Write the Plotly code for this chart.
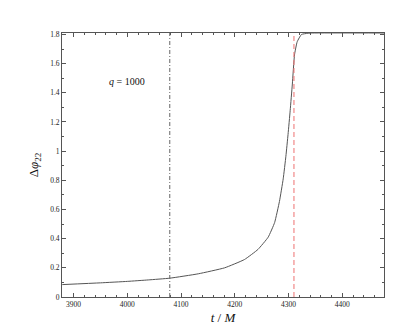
import plotly.graph_objects as go

# phase difference curve
t_vals = [3879, 3950, 4000, 4039, 4079, 4132, 4181, 4218, 4243, 4262, 4274,
          4283, 4290, 4295, 4299, 4303, 4307, 4311, 4316, 4324, 4336, 4345, 4478]
dphi_vals = [0.085, 0.097, 0.107, 0.117, 0.129, 0.159, 0.200, 0.257, 0.326,
             0.410, 0.510, 0.655, 0.81, 0.965, 1.115, 1.28, 1.46, 1.66, 1.75,
             1.80, 1.808, 1.81, 1.81]

# vertical reference lines
t_dashdot = 4079
t_dashed = 4310

y_ticks = [0, 0.2, 0.4, 0.6, 0.8, 1, 1.2, 1.4, 1.6, 1.8]
x_ticks = [3900, 4000, 4100, 4200, 4300, 4400]

serif = "Liberation Serif"
axis_col = "#555555"

fig = go.Figure()

fig.add_trace(go.Scatter(
    x=t_vals, y=dphi_vals, mode="lines",
    line=dict(color="#555555", width=1, shape="spline", smoothing=0.4),
    showlegend=False, hoverinfo="skip"
))

fig.add_vline(x=t_dashdot, line=dict(color="#666666", width=1, dash="4px,2px,1px,2px"))
fig.add_vline(x=t_dashed, line=dict(color="#ee7070", width=1, dash="5px,3px"))

fig.add_annotation(
    x=4000, y=1.48, xref="x", yref="y", showarrow=False,
    text="<i>q</i> = 1000", font=dict(family=serif, size=10, color="#111111")
)

axis_common = dict(
    showline=True, linecolor=axis_col, linewidth=1, mirror="ticks",
    ticks="inside", ticklen=4, tickwidth=1, tickcolor=axis_col,
    showgrid=False, zeroline=False,
    tickfont=dict(family=serif, size=7.5, color="#222222"),
)

fig.update_xaxes(
    range=[3878.5, 4477.5], tickvals=x_ticks,
    minor=dict(ticks="inside", ticklen=2, dtick=20, tick0=3900, tickcolor=axis_col, showgrid=False),
    title=dict(text="<i>t</i> / <i>M</i>", font=dict(family=serif, size=13, color="#111111"), standoff=4),
    **axis_common
)
fig.update_yaxes(
    range=[0, 1.81], tickvals=y_ticks,
    minor=dict(ticks="inside", ticklen=2, dtick=0.1, tick0=0, tickcolor=axis_col, showgrid=False),
    title=dict(text="Δ<i>φ</i><sub>22</sub>", font=dict(family=serif, size=13, color="#111111"), standoff=8),
    **axis_common
)

fig.update_layout(
    width=415, height=326,
    margin=dict(l=54, r=39, t=25, b=37),
    plot_bgcolor="white", paper_bgcolor="white",
    showlegend=False,
)

fig.write_html("out.html")
